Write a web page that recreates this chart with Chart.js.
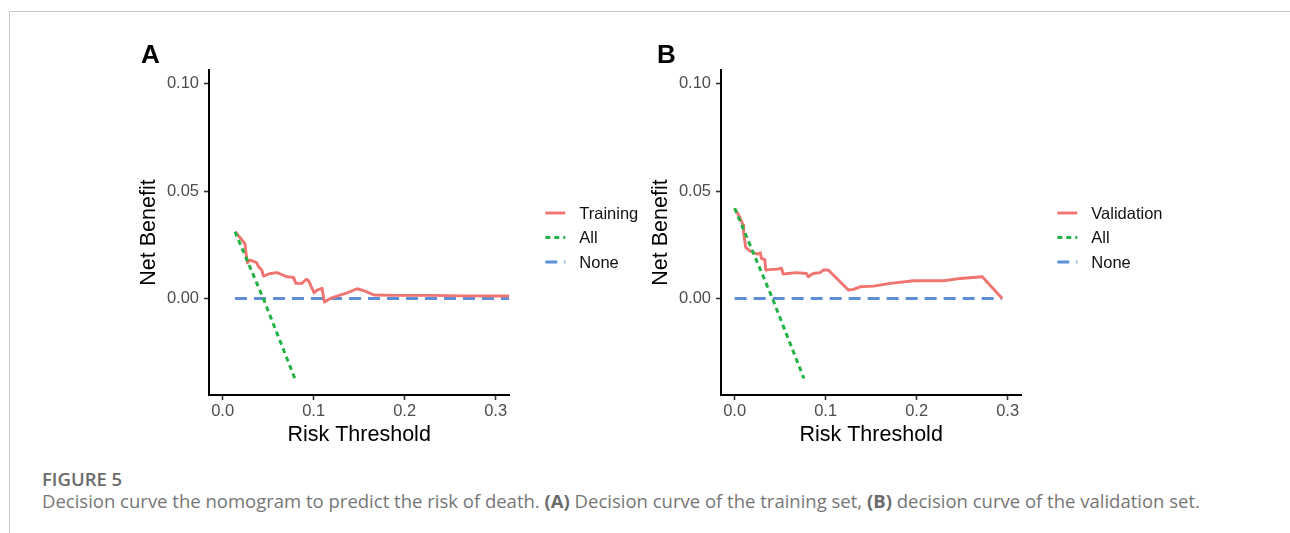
<!DOCTYPE html>
<html>
<head>
<meta charset="utf-8">
<script src="https://cdn.jsdelivr.net/npm/chart.js@4"></script>
<style>
  body { margin: 0; width: 1290px; height: 533px; background: #fff; overflow: hidden; position: relative; }
  .frame { position: absolute; left: 9px; top: 11px; right: 0; bottom: 0; border-top: 1px solid #c8c8c8; border-left: 1px solid #c8c8c8; }
  canvas { position: absolute; top: 0; }
  #chartA { left: 0; }
  #chartB { left: 512px; }
  .panel { position: absolute; font: bold 26px "Liberation Sans", Arial, sans-serif; color: #000; line-height: 26px; }
  .fig { position: absolute; left: 42px; top: 470px; font: 600 18.5px "Open Sans", sans-serif; line-height: 18px; color: #6b6b6b; }
  .cap { position: absolute; left: 42px; top: 492px; font: 18.5px "Open Sans", sans-serif; line-height: 18px; color: #767676; white-space: nowrap; }
  .cap b { font-weight: 700; color: #6b6b6b; }
</style>
</head>
<body>
<div class="frame"></div>
<canvas id="chartA" width="700" height="450"></canvas>
<canvas id="chartB" width="700" height="450"></canvas>
<div class="panel" style="left:141px; top:41px;">A</div>
<div class="panel" style="left:657px; top:41px;">B</div>
<div class="fig">FIGURE 5</div>
<div class="cap">Decision curve the nomogram to predict the risk of death. <b>(A)</b> Decision curve of the training set, <b>(B)</b> decision curve of the validation set.</div>

<script>
// tick labels
const xTicks = [0, 0.1, 0.2, 0.3];
const yTicks = [0, 0.05, 0.10];

// Panel A - training set
const trainX = [0.0136, 0.0228, 0.0246, 0.0257, 0.0272, 0.030, 0.0346, 0.0375, 0.0393, 0.043, 0.0449, 0.0522, 0.0596, 0.0706, 0.0779, 0.0805, 0.0871, 0.0919, 0.0945, 0.0982, 0.1007, 0.1037, 0.1092, 0.1118, 0.1184, 0.1257, 0.1368, 0.1478, 0.1551, 0.1662, 0.1919, 0.2287, 0.2654, 0.315];
const trainY = [0.0311, 0.0264, 0.0253, 0.021, 0.0166, 0.0179, 0.0171, 0.0166, 0.0148, 0.0132, 0.0104, 0.0116, 0.012, 0.0101, 0.0098, 0.007, 0.007, 0.0089, 0.0082, 0.0047, 0.0026, 0.0039, 0.0047, -0.0017, 0.0, 0.0011, 0.0026, 0.0045, 0.0036, 0.0016, 0.0014, 0.0014, 0.0012, 0.0011];
const allAX = [0.0136, 0.0446, 0.080];
const allAY = [0.031, 0, -0.038];
const noneAX = [0.0136, 0.315];
const noneAY = [0, 0];

// Panel B - validation set
const valX = [0, 0.0055, 0.0092, 0.0099, 0.011, 0.0121, 0.0165, 0.0221, 0.0257, 0.0283, 0.0294, 0.0331, 0.0342, 0.0404, 0.046, 0.0515, 0.0533, 0.0588, 0.068, 0.079, 0.0809, 0.0864, 0.0938, 0.0974, 0.1029, 0.125, 0.1305, 0.1379, 0.1526, 0.171, 0.1967, 0.2298, 0.2482, 0.2721, 0.2941];
const valY = [0.0419, 0.038, 0.0342, 0.0303, 0.0272, 0.0238, 0.0222, 0.021, 0.0207, 0.0213, 0.0186, 0.0182, 0.0132, 0.0135, 0.0135, 0.0141, 0.0113, 0.0116, 0.012, 0.0116, 0.0101, 0.0116, 0.012, 0.0132, 0.0132, 0.0039, 0.0042, 0.0054, 0.0057, 0.007, 0.0082, 0.0082, 0.0093, 0.0101, 0];
const allBX = [0, 0.0415, 0.0761];
const allBY = [0.042, 0, -0.0373];
const noneBX = [0, 0.294];
const noneBY = [0, 0];

const FONT = '"Liberation Sans", Arial, sans-serif';

function toPoints(xs, ys) {
    return xs.map((x, i) => ({ x: x, y: ys[i] }));
}

// draws the ggplot-style legend to the right of the plot
const sideLegend = {
    id: 'sideLegend',
    afterDraw(chart) {
        const ctx = chart.ctx;
        const ca = chart.chartArea;
        ctx.save();
        chart.data.datasets.forEach((ds, i) => {
            const y = 213 + i * 24.5;
            ctx.beginPath();
            ctx.strokeStyle = ds.borderColor;
            ctx.lineWidth = ds.borderWidth;
            ctx.setLineDash(ds.borderDash || []);
            ctx.moveTo(ca.right + 36, y);
            ctx.lineTo(ca.right + 56, y);
            ctx.stroke();
            ctx.setLineDash([]);
            ctx.fillStyle = '#111';
            ctx.font = '16.5px ' + FONT;
            ctx.textBaseline = 'middle';
            ctx.fillText(ds.label, ca.right + 70, y + 1);
        });
        ctx.restore();
    }
};

function makeChart(id, label, lineX, lineY, allX, allY, noneX, noneY) {
    const ctx = document.getElementById(id).getContext('2d');
    return new Chart(ctx, {
        type: 'line',
        data: {
            datasets: [{
                label: label,
                data: toPoints(lineX, lineY),
                borderColor: '#F07470',
                borderWidth: 2.9,
                order: 2
            }, {
                label: 'All',
                data: toPoints(allX, allY),
                borderColor: '#22B345',
                borderWidth: 3,
                borderDash: [5, 4],
                order: 1
            }, {
                label: 'None',
                data: toPoints(noneX, noneY),
                borderColor: '#5C8FD8',
                borderWidth: 3,
                borderDash: [12, 7],
                order: 3
            }]
        },
        options: {
            responsive: false,
            animation: false,
            devicePixelRatio: 1,
            layout: { padding: { left: 0, top: 70, right: 190.7, bottom: 0 } },
            elements: { point: { radius: 0 }, line: { tension: 0, borderJoinStyle: 'round', borderCapStyle: 'butt' } },
            plugins: { legend: { display: false }, tooltip: { enabled: false } },
            scales: {
                x: {
                    type: 'linear',
                    min: -0.015,
                    max: 0.315,
                    afterBuildTicks: s => { s.ticks = xTicks.map(v => ({ value: v })); },
                    afterFit: s => { s.height = 55; },
                    grid: { drawOnChartArea: false, tickLength: 5, tickWidth: 1.6, tickColor: '#333' },
                    border: { color: '#000', width: 2 },
                    ticks: {
                        padding: 2,
                        color: '#4d4d4d',
                        font: { family: FONT, size: 16.5 },
                        maxRotation: 0,
                        callback: v => v.toFixed(1)
                    },
                    title: {
                        display: true,
                        text: 'Risk Threshold',
                        color: '#000',
                        font: { family: FONT, size: 21.5 },
                        padding: { top: 0, bottom: 2.4 }
                    }
                },
                y: {
                    min: -0.045,
                    max: 0.1064,
                    afterBuildTicks: s => { s.ticks = yTicks.map(v => ({ value: v })); },
                    afterFit: s => { s.width = 209; },
                    grid: { drawOnChartArea: false, tickLength: 5, tickWidth: 1.6, tickColor: '#333' },
                    border: { color: '#000', width: 2 },
                    ticks: {
                        padding: 5,
                        color: '#4d4d4d',
                        font: { family: FONT, size: 16.5 },
                        callback: v => v.toFixed(2)
                    },
                    title: {
                        display: true,
                        text: 'Net Benefit',
                        color: '#000',
                        font: { family: FONT, size: 21.5 },
                        padding: { top: 136.5, bottom: 0 }
                    }
                }
            }
        },
        plugins: [sideLegend]
    });
}

makeChart('chartA', 'Training', trainX, trainY, allAX, allAY, noneAX, noneAY);
makeChart('chartB', 'Validation', valX, valY, allBX, allBY, noneBX, noneBY);
</script>
</body>
</html>
